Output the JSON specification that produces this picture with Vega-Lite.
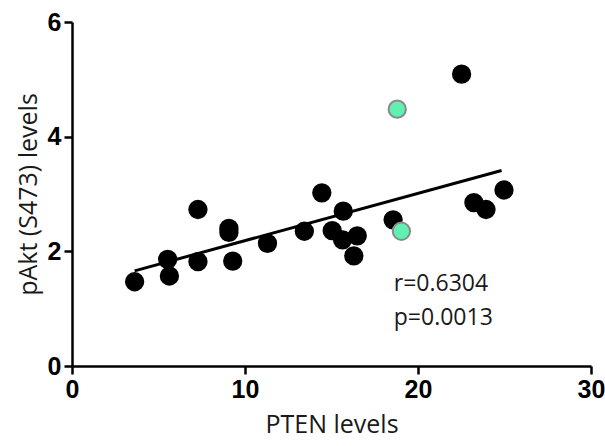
{
  "$schema": "https://vega.github.io/schema/vega-lite/v6.json",
  "width": 519,
  "height": 344,
  "autosize": "none",
  "padding": {"left": 72, "top": 22, "right": 14, "bottom": 80},
  "background": "white",
  "config": {"view": {"stroke": null}},
  "datasets": {
    "pts": [
      {"pten": 3.62, "pakt": 1.47, "group": "black"},
      {"pten": 5.53, "pakt": 1.86, "group": "black"},
      {"pten": 5.63, "pakt": 1.57, "group": "black"},
      {"pten": 7.28, "pakt": 2.73, "group": "black"},
      {"pten": 7.28, "pakt": 1.82, "group": "black"},
      {"pten": 9.07, "pakt": 2.40, "group": "black"},
      {"pten": 9.07, "pakt": 2.33, "group": "black"},
      {"pten": 9.29, "pakt": 1.83, "group": "black"},
      {"pten": 11.30, "pakt": 2.14, "group": "black"},
      {"pten": 13.43, "pakt": 2.35, "group": "black"},
      {"pten": 14.44, "pakt": 3.02, "group": "black"},
      {"pten": 15.04, "pakt": 2.36, "group": "black"},
      {"pten": 15.68, "pakt": 2.70, "group": "black"},
      {"pten": 15.64, "pakt": 2.20, "group": "black"},
      {"pten": 16.49, "pakt": 2.27, "group": "black"},
      {"pten": 16.29, "pakt": 1.92, "group": "black"},
      {"pten": 18.56, "pakt": 2.55, "group": "black"},
      {"pten": 22.52, "pakt": 5.09, "group": "black"},
      {"pten": 23.23, "pakt": 2.85, "group": "black"},
      {"pten": 23.93, "pakt": 2.73, "group": "black"},
      {"pten": 24.97, "pakt": 3.07, "group": "black"},
      {"pten": 18.80, "pakt": 4.48, "group": "green"},
      {"pten": 19.04, "pakt": 2.35, "group": "green"}
    ],
    "fit": [
      {"pten": 3.62, "pakt": 1.66},
      {"pten": 24.83, "pakt": 3.41}
    ],
    "stats": [
      {"pten": 18.6, "pakt": 1.31, "label": "r=0.6304"},
      {"pten": 18.6, "pakt": 0.72, "label": "p=0.0013"}
    ]
  },
  "encoding": {
    "x": {
      "field": "pten", "type": "quantitative",
      "scale": {"domain": [0, 30], "nice": false, "zero": true},
      "axis": {
        "title": "PTEN levels", "values": [0, 10, 20, 30], "grid": false, "labelFlush": false, "labelOverlap": false,
        "domainColor": "black", "domainWidth": 2.5, "tickColor": "black", "tickWidth": 2.5, "tickSize": 8,
        "labelFont": "Liberation Sans", "labelFontWeight": "bold", "labelFontSize": 25, "labelColor": "black", "labelPadding": 3,
        "titleFont": "Open Sans", "titleFontSize": 25, "titleFontWeight": "normal", "titleColor": "#1a1a1a", "titlePadding": 10
      }
    },
    "y": {
      "field": "pakt", "type": "quantitative",
      "scale": {"domain": [0, 6], "nice": false},
      "axis": {
        "title": "pAkt (S473) levels", "values": [0, 2, 4, 6], "grid": false, "labelFlush": false, "labelOverlap": false,
        "domainColor": "black", "domainWidth": 2.5, "tickColor": "black", "tickWidth": 2.5, "tickSize": 8,
        "labelFont": "Liberation Sans", "labelFontWeight": "bold", "labelFontSize": 25, "labelColor": "black", "labelPadding": 3,
        "titleFont": "Open Sans", "titleFontSize": 25, "titleFontWeight": "normal", "titleColor": "#1a1a1a", "titlePadding": 6
      }
    }
  },
  "layer": [
    {
      "data": {"name": "fit"},
      "mark": {"type": "line", "color": "black", "strokeWidth": 3},
      "encoding": {}
    },
    {
      "data": {"name": "pts"},
      "mark": {"type": "circle", "opacity": 1, "size": 300},
      "encoding": {
        "color": {"field": "group", "type": "nominal", "scale": {"domain": ["black", "green"], "range": ["black", "#62efb2"]}, "legend": null},
        "stroke": {"field": "group", "type": "nominal", "scale": {"domain": ["black", "green"], "range": ["black", "#8a8a8a"]}, "legend": null}
      }
    },
    {
      "data": {"name": "stats"},
      "mark": {"type": "text", "align": "left", "baseline": "alphabetic", "font": "Open Sans", "fontSize": 23, "color": "#1a1a1a"},
      "encoding": {"text": {"field": "label"}}
    }
  ]
}
